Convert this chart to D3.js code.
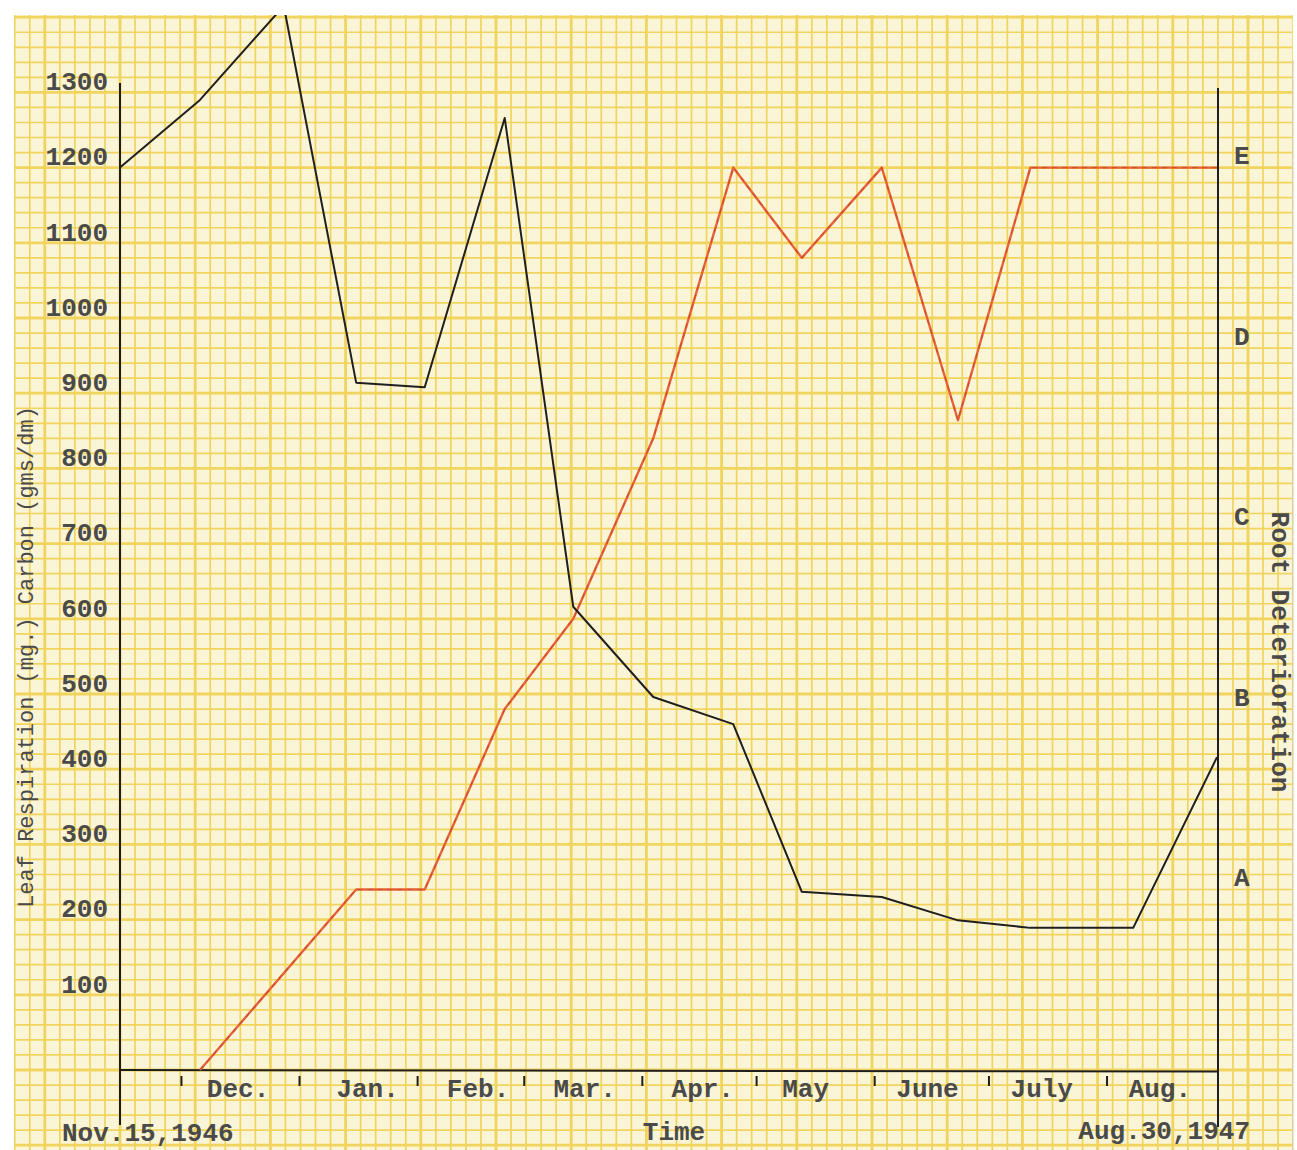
<!DOCTYPE html>
<html><head><meta charset="utf-8">
<script src="https://cdn.jsdelivr.net/npm/d3@7"></script>
<style>html,body{margin:0;padding:0;background:#fff;} svg{display:block}</style>
</head><body><svg id="c" width="1297" height="1150"></svg>
<script>
// ---------- data ----------
const blackDates = ["1946-11-15","1946-12-06","1946-12-28","1947-01-16","1947-02-03","1947-02-24","1947-03-14","1947-04-04","1947-04-25","1947-05-13","1947-06-03","1947-06-23","1947-07-12","1947-08-08","1947-08-30"];
const blackValues = [1200,1290,1415,914,908,1266,616,496,460,237,230,199,189,189,416];
const redDates = ["1946-12-06","1947-01-16","1947-02-03","1947-02-24","1947-03-14","1947-04-04","1947-04-25","1947-05-13","1947-06-03","1947-06-23","1947-07-12","1947-08-30"];
const redValues = [0,1,1,2,2.5,3.5,5,4.5,5,3.6,5,5];
const leftTicks = [100,200,300,400,500,600,700,800,900,1000,1100,1200,1300];
const rightTickValues = [1,2,3,4,5];
const rightTickLabels = ["A","B","C","D","E"];
const monthTickDates = ["1946-12-01","1947-01-01","1947-02-01","1947-03-01","1947-04-01","1947-05-01","1947-06-01","1947-07-01","1947-08-01"];
const monthLabels = ["Dec.","Jan.","Feb.","Mar.","Apr.","May","June","July","Aug."];
const monthLabelDates = ["1946-12-16","1947-01-19","1947-02-17","1947-03-17","1947-04-17","1947-05-14","1947-06-15","1947-07-15","1947-08-15"];
const startLabel = "Nov.15,1946", endLabel = "Aug.30,1947", xTitle = "Time";
const rightTitle = "Root Deterioration";
const leftTitle = "Leaf Respiration (mg.) Carbon (gms/dm)";
const dateStart = "1946-11-15", dateEnd = "1947-08-30";

// ---------- setup ----------
const parse = d3.timeParse("%Y-%m-%d");
const svg = d3.select("#c");
const W = 1297, H = 1150;
const paper = {x0: 14, y0: 15, x1: 1293, y1: 1150};
const x = d3.scaleTime().domain([parse(dateStart), parse(dateEnd)]).range([120, 1217]);
const y = d3.scaleLinear().domain([0, 1300]).range([1070, 92.4]);
const yR = d3.scaleLinear().domain([0, 5]).range([y(0), y(1200)]);
const font = "'Liberation Mono', 'Courier New', monospace";
const ink = "#4a4a4a";

svg.append("rect").attr("width", W).attr("height", H).attr("fill", "#fff");
svg.append("defs").append("clipPath").attr("id", "pc").append("rect")
  .attr("x", paper.x0).attr("y", paper.y0).attr("width", paper.x1 - paper.x0).attr("height", paper.y1 - paper.y0);
const g = svg.append("g").attr("clip-path", "url(#pc)");
g.append("rect").attr("x", paper.x0).attr("y", paper.y0).attr("width", paper.x1 - paper.x0).attr("height", paper.y1 - paper.y0).attr("fill", "#faf5d6");

// graph-paper grid
const step = (y(0) - y(1300)) / 65;
const gridCol = "#f0d45e";
const grid = g.append("g");
for (let k = -8; 120 + k * step < paper.x1 + 2; k++) {
  const gx = 120 + k * step;
  grid.append("line").attr("x1", gx).attr("x2", gx).attr("y1", paper.y0).attr("y2", paper.y1)
    .attr("stroke", gridCol).attr("stroke-width", k % 5 === 0 ? 2.8 : 1.7);
}
for (let k = -6; 1070 - k * step > paper.y0 - 2; k++) {
  const gy = 1070 - k * step;
  grid.append("line").attr("y1", gy).attr("y2", gy).attr("x1", paper.x0).attr("x2", paper.x1)
    .attr("stroke", gridCol).attr("stroke-width", k % 5 === 0 ? 2.8 : 1.7);
}
// right paper edge
svg.append("line").attr("x1", paper.x1).attr("x2", paper.x1).attr("y1", 60).attr("y2", 1150).attr("stroke", "#cfcab0").attr("stroke-width", 1);

// axes lines
const axCol = "#1e1e1e";
g.append("line").attr("x1", 120).attr("x2", 120).attr("y1", 83).attr("y2", 1125).attr("stroke", axCol).attr("stroke-width", 2);
g.append("line").attr("x1", 1218).attr("x2", 1218).attr("y1", 88).attr("y2", 1127).attr("stroke", axCol).attr("stroke-width", 2);
g.append("line").attr("x1", 120).attr("x2", 1218).attr("y1", y(0)).attr("y2", y(0) + 1.5).attr("stroke", axCol).attr("stroke-width", 2);

// left axis labels
const la = g.append("g").attr("transform", "translate(120,-11)")
  .call(d3.axisLeft(y).tickValues(leftTicks).tickSize(0).tickPadding(12).tickFormat(d3.format("d")));
la.select(".domain").remove();
la.selectAll("text").attr("font-family", font).attr("font-size", 26).attr("font-weight", "bold").attr("fill", ink);

// right axis labels
const ra = g.append("g").attr("transform", "translate(1218,-12)")
  .call(d3.axisRight(yR).tickValues(rightTickValues).tickSize(0).tickPadding(16).tickFormat((d, i) => rightTickLabels[i]));
ra.select(".domain").remove();
ra.selectAll("text").attr("font-family", font).attr("font-size", 26).attr("font-weight", "bold").attr("fill", ink);

// bottom ticks
const ba = g.append("g").attr("transform", "translate(0," + (y(0) + 6) + ")")
  .call(d3.axisBottom(x).tickValues(monthTickDates.map(parse)).tickSize(10).tickFormat(""));
ba.select(".domain").remove();
ba.selectAll("line").attr("stroke", axCol).attr("stroke-width", 2);

// month labels
g.append("g").selectAll("text").data(monthLabels).join("text")
  .attr("x", (d, i) => x(parse(monthLabelDates[i]))).attr("y", 1097)
  .attr("text-anchor", "middle").attr("font-family", font).attr("font-size", 26).attr("font-weight", "bold").attr("fill", ink)
  .text(d => d);

// bottom texts
const bt = g.append("g").attr("font-family", font).attr("font-size", 26).attr("font-weight", "bold").attr("fill", ink);
bt.append("text").attr("x", 62).attr("y", 1141).text(startLabel);
bt.append("text").attr("x", 674).attr("y", 1140).attr("text-anchor", "middle").text(xTitle);
bt.append("text").attr("x", 1250).attr("y", 1139).attr("text-anchor", "end").text(endLabel);
bt.append("text").attr("transform", "translate(1272,652) rotate(90)").attr("text-anchor", "middle").text(rightTitle);
bt.append("text").attr("transform", "translate(27,657) rotate(-90)").attr("text-anchor", "middle").attr("dominant-baseline", "central")
  .attr("font-size", 22).attr("font-weight", "normal").text(leftTitle);

// series
const lineB = d3.line().x((d, i) => x(parse(blackDates[i]))).y(d => y(d));
const lineR = d3.line().x((d, i) => x(parse(redDates[i]))).y(d => yR(d));
g.append("path").datum(redValues).attr("d", lineR).attr("fill", "none").attr("stroke", "#e8623a").attr("stroke-width", 2.4).attr("stroke-linejoin", "round");
g.append("path").datum(redValues).attr("d", lineR).attr("fill", "none").attr("stroke", "#b8401f").attr("stroke-width", 1.2).attr("stroke-dasharray", "5,5").attr("opacity", 0.55);
g.append("path").datum(blackValues).attr("d", lineB).attr("fill", "none").attr("stroke", "#1f1f1f").attr("stroke-width", 2).attr("stroke-linejoin", "round");
</script></body></html>
